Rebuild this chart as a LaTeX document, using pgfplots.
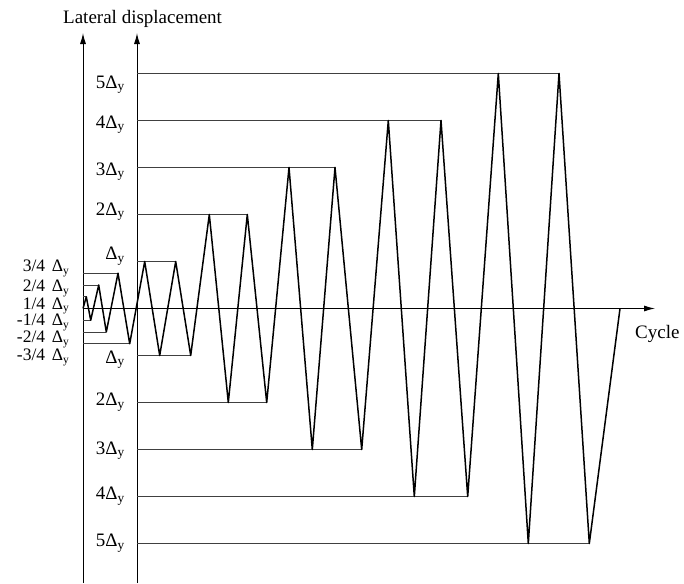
\documentclass[border=0pt]{standalone}
\usepackage{pgfplots}
\pgfplotsset{compat=1.18}
\usepackage{fontspec}
\setmainfont{Liberation Serif}
\usetikzlibrary{arrows.meta}
\newcommand{\fs}{\fontsize{19}{22}\selectfont}
\newcommand{\ft}{\fontsize{17.5}{20}\selectfont}
\newcommand{\D}{Δ\textsubscript{y}}
\newcommand{\Ds}{\hspace{0.38em}Δ\raisebox{-0.15em}{\fontsize{11.5}{12}\selectfont y}}
\begin{document}
\begin{tikzpicture}
\begin{axis}[x=1pt, y=47pt, xmin=0, xmax=684, ymin=-5.8404, ymax=6.5638,
  hide axis, clip=false]
\path (rel axis cs:0,0) rectangle (rel axis cs:1,1);
% axes
\addplot[black, line width=0.9pt, -{Latex[length=11pt,width=6pt]}] coordinates {(83,-5.8404) (83,5.86)};
\addplot[black, line width=0.9pt, -{Latex[length=11pt,width=6pt]}] coordinates {(137,-5.8404) (137,5.86)};
\addplot[black, line width=0.9pt, -{Latex[length=11pt,width=6pt]}] coordinates {(83,0) (655,0)};
% level lines
\addplot[black!75, line width=0.9pt] coordinates {(83,0.25) (86.3,0.25)};
\addplot[black!75, line width=0.9pt] coordinates {(83,-0.25) (90.7,-0.25)};
\addplot[black!75, line width=0.9pt] coordinates {(83,0.5) (98.7,0.5)};
\addplot[black!75, line width=0.9pt] coordinates {(83,-0.5) (106.3,-0.5)};
\addplot[black!75, line width=0.9pt] coordinates {(83,0.75) (118,0.75)};
\addplot[black!75, line width=0.9pt] coordinates {(83,-0.75) (129.7,-0.75)};
\addplot[black!75, line width=0.9pt] coordinates {(137,1) (175.7,1)};
\addplot[black!75, line width=0.9pt] coordinates {(137,-1) (190.7,-1)};
\addplot[black!75, line width=0.9pt] coordinates {(137,2) (247.3,2)};
\addplot[black!75, line width=0.9pt] coordinates {(137,-2) (266.7,-2)};
\addplot[black!75, line width=0.9pt] coordinates {(137,3) (335,3)};
\addplot[black!75, line width=0.9pt] coordinates {(137,-3) (361.7,-3)};
\addplot[black!75, line width=0.9pt] coordinates {(137,4) (441,4)};
\addplot[black!75, line width=0.9pt] coordinates {(137,-4) (467.7,-4)};
\addplot[black!75, line width=0.9pt] coordinates {(137,5) (559,5)};
\addplot[black!75, line width=0.9pt] coordinates {(137,-5) (589.3,-5)};
% loading history
\addplot[black, line width=1.5pt, line join=round] coordinates {
(83,0) (86.3,0.25) (90.7,-0.25) (98.7,0.5) (106.3,-0.5) (118,0.75) (129.7,-0.75)
(144.7,1) (159.7,-1) (175.7,1) (190.7,-1)
(209.3,2) (228.3,-2) (247.3,2) (266.7,-2)
(289,3) (312.3,-3) (335,3) (361.7,-3)
(388.3,4) (414.3,-4) (441,4) (467.7,-4)
(498.3,5) (528.3,-5) (559,5) (589.3,-5) (620,0)};
% labels
\node[anchor=base west, font=\fs, inner sep=0pt] at (axis cs:63,6.065) {Lateral displacement};
\node[anchor=base west, font=\fs, inner sep=0pt] at (axis cs:635,-0.634) {Cycle};
\node[anchor=base east, font=\fs, inner sep=0pt] at (axis cs:125,4.685) {5\D};
\node[anchor=base east, font=\fs, inner sep=0pt] at (axis cs:125,3.834) {4\D};
\node[anchor=base east, font=\fs, inner sep=0pt] at (axis cs:125,2.840) {3\D};
\node[anchor=base east, font=\fs, inner sep=0pt] at (axis cs:125,1.989) {2\D};
\node[anchor=base east, font=\fs, inner sep=0pt] at (axis cs:125,1.033) {\D};
\node[anchor=base east, font=\fs, inner sep=0pt] at (axis cs:125,-1.166) {\D};
\node[anchor=base east, font=\fs, inner sep=0pt] at (axis cs:125,-2.068) {2\D};
\node[anchor=base east, font=\fs, inner sep=0pt] at (axis cs:125,-3.096) {3\D};
\node[anchor=base east, font=\fs, inner sep=0pt] at (axis cs:125,-4.074) {4\D};
\node[anchor=base east, font=\fs, inner sep=0pt] at (axis cs:125,-5.068) {5\D};
\node[anchor=base east, font=\ft, inner sep=0pt] at (axis cs:69,0.783) {3/4\Ds};
\node[anchor=base east, font=\ft, inner sep=0pt] at (axis cs:69,0.357) {2/4\Ds};
\node[anchor=base east, font=\ft, inner sep=0pt] at (axis cs:69,-0.017) {1/4\Ds};
\node[anchor=base east, font=\ft, inner sep=0pt] at (axis cs:69,-0.372) {-1/4\Ds};
\node[anchor=base east, font=\ft, inner sep=0pt] at (axis cs:69,-0.728) {-2/4\Ds};
\node[anchor=base east, font=\ft, inner sep=0pt] at (axis cs:69,-1.111) {-3/4\Ds};
\end{axis}
\end{tikzpicture}
\end{document}
